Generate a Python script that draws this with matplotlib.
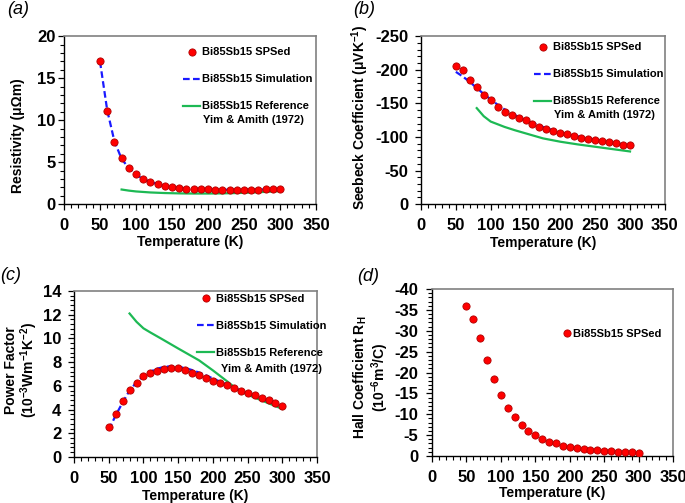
import matplotlib
matplotlib.use("Agg")
import matplotlib.pyplot as plt
import matplotlib.transforms as mtransforms
from matplotlib.lines import Line2D
from matplotlib.ticker import MultipleLocator

FONT = 'Liberation Sans'
plt.rcParams['font.family'] = [FONT, 'DejaVu Sans']
plt.rcParams['font.weight'] = 'bold'
plt.rcParams['axes.labelweight'] = 'bold'
plt.rcParams['axes.unicode_minus'] = False
plt.rcParams['mathtext.fontset'] = 'custom'
plt.rcParams['mathtext.rm'] = FONT + ':bold'
plt.rcParams['mathtext.it'] = FONT + ':bold'
plt.rcParams['mathtext.bf'] = FONT + ':bold'
plt.rcParams['mathtext.default'] = 'rm'

# Temperature grid of the measurements (K)
temp = [50, 60, 70, 80, 90, 100, 110, 120, 130, 140, 150, 160, 170, 180, 190,
        200, 210, 220, 230, 240, 250, 260, 270, 280, 290, 300]

# (a) resistivity (uOhm m)
rho_meas = [17.1, 11.07, 7.42, 5.52, 4.29, 3.57, 2.98, 2.66, 2.42, 2.22, 2.06, 1.94, 1.87,
            1.83, 1.79, 1.76, 1.74, 1.73, 1.72, 1.72, 1.73, 1.74, 1.75, 1.76, 1.78, 1.82]
rho_sim = [17.0, 11.2, 7.5, 5.4, 4.3, 3.55, 3.0, 2.65, 2.4, 2.2, 2.06, 1.95, 1.88,
           1.83, 1.79, 1.76, 1.74, 1.73, 1.72, 1.72, 1.73, 1.74, 1.75, 1.76, 1.78, 1.82]
ref_temp_a = [80, 90, 100, 120, 140, 160, 180, 200, 220, 240, 260, 280, 300]
rho_ref = [1.75, 1.62, 1.52, 1.40, 1.33, 1.29, 1.27, 1.27, 1.29, 1.33, 1.39, 1.47, 1.56]

# (b) Seebeck coefficient (uV/K)
seeb_meas = [-205, -199, -185.5, -174.5, -163, -155, -145, -137, -132.5, -128, -125, -120,
             -115.5, -112.5, -109, -106, -104, -101, -99, -97.5, -95.5, -94, -92.5, -90.5,
             -88.5, -88]
seeb_sim = [-197, -190, -182, -173, -164, -156, -148, -141, -135, -130, -125, -121, -117,
            -113, -110, -107, -104, -102, -100, -98, -96, -94, -92, -91, -89, -88]
ref_temp_b = [80, 90, 100, 110, 120, 135, 150, 175, 200, 225, 250, 275, 300]
seeb_ref = [-143, -131, -123, -119, -115, -110, -105.5, -98, -93, -89, -85.5, -82, -78.5]

# (c) power factor (1e-3 W m^-1 K^-2)
pf_meas = [2.49, 3.64, 4.68, 5.63, 6.27, 6.86, 7.09, 7.28, 7.42, 7.48, 7.48, 7.31, 7.09,
           6.92, 6.69, 6.44, 6.27, 6.05, 5.85, 5.60, 5.38, 5.21, 5.01, 4.79, 4.54, 4.34]
pf_sim = [2.3, 3.5, 4.6, 5.6, 6.3, 6.85, 7.2, 7.45, 7.6, 7.65, 7.6, 7.5, 7.33, 7.12,
          6.88, 6.62, 6.36, 6.1, 5.85, 5.6, 5.36, 5.14, 4.91, 4.69, 4.46, 4.25]
ref_temp_c = [80, 90, 100, 110, 125, 150, 180, 200, 220, 235, 250, 275, 300]
pf_ref = [12.1, 11.4, 10.85, 10.5, 10.0, 9.15, 8.15, 7.3, 6.4, 5.7, 5.25, 4.65, 4.05]

# (d) Hall coefficient (1e-6 m^3/C)
hall_meas = [-36.0, -32.9, -28.2, -23.1, -18.5, -14.6, -11.6, -9.3, -7.4, -6.0, -5.0, -4.1,
             -3.4, -3.0, -2.5, -2.2, -1.9, -1.7, -1.5, -1.4, -1.2, -1.1, -1.0, -0.96, -0.88,
             -0.8]

RED, RED_EDGE = '#ff0000', '#b00000'
BLUE = '#1a1aff'
GREEN = '#1db954'
LEG_SPSED = 'Bi85Sb15 SPSed'
LEG_SIM = 'Bi85Sb15 Simulation'
LEG_REF = 'Bi85Sb15 Reference'
REF_NOTE = 'Yim & Amith (1972)'
LEG_SIZE = 8
LAB_SIZE = 10
TICK_SIZE = 12

fig = plt.figure(figsize=(6.85, 5.03), dpi=100)
ax_a = fig.add_axes([0.0934, 0.594, 0.368, 0.334])
ax_b = fig.add_axes([0.6146, 0.594, 0.356, 0.334])
ax_c = fig.add_axes([0.108, 0.0915, 0.355, 0.330])
ax_d = fig.add_axes([0.6307, 0.0934, 0.352, 0.332])


def style_axes(ax, ylim, ymajor, yminor, ypad, xlab_y):
    ax.set_xlim(0, 350)
    ax.set_ylim(*ylim)
    ax.xaxis.set_major_locator(MultipleLocator(50))
    ax.xaxis.set_minor_locator(MultipleLocator(10))
    ax.yaxis.set_major_locator(MultipleLocator(ymajor))
    ax.yaxis.set_minor_locator(MultipleLocator(yminor))
    for side in ['left', 'bottom']:
        ax.spines[side].set_color('black')
        ax.spines[side].set_linewidth(1.0)
    for side in ['top', 'right']:
        ax.spines[side].set_color('#808080')
        ax.spines[side].set_linewidth(1.2)
    ax.tick_params(which='major', direction='out', length=4, width=0.9, labelsize=TICK_SIZE)
    ax.tick_params(which='minor', direction='out', length=3, width=0.8)
    ax.tick_params(axis='x', which='major', pad=6)
    ax.tick_params(axis='y', which='major', pad=ypad)
    for lab in ax.get_xticklabels() + ax.get_yticklabels():
        lab.set_fontweight('bold')
    ax.set_xlabel('Temperature (K)', fontsize=LAB_SIZE, fontweight='bold')
    ax.xaxis.set_label_coords(0.5, xlab_y)


def plot_meas(ax, y):
    ax.plot(temp, y, 'o', color=RED, mec=RED_EDGE, mew=0.6, ms=5.2, zorder=3)


def add_legend(ax, three, anchor, note_xy):
    h_meas = Line2D([], [], ls='none', marker='o', color=RED, mec=RED_EDGE, mew=0.6, ms=5.2)
    if not three:
        ax.legend([h_meas], [LEG_SPSED], loc='upper left', bbox_to_anchor=anchor,
                  frameon=False, prop={'size': LEG_SIZE, 'weight': 'bold'}, handlelength=0.9,
                  handletextpad=0.15, borderpad=0, borderaxespad=0)
        return
    h_sim = Line2D([], [], color=BLUE, lw=1.6, ls=(0, (3, 1.5)))
    h_ref = Line2D([], [], color=GREEN, lw=1.6)
    ax.legend([h_meas, h_sim, h_ref], [LEG_SPSED, LEG_SIM, LEG_REF], loc='upper left',
              bbox_to_anchor=anchor, frameon=False, prop={'size': LEG_SIZE, 'weight': 'bold'},
              handlelength=1.55, handletextpad=0.2, labelspacing=1.53, borderpad=0,
              borderaxespad=0)
    ax.text(note_xy[0], note_xy[1], REF_NOTE, transform=ax.transAxes, fontsize=LEG_SIZE,
            fontweight='bold', va='center', ha='left')


# (a)
ax_a.plot(temp, rho_sim, color=BLUE, lw=1.6, ls=(0, (3, 1.5)), zorder=2)
ax_a.plot(ref_temp_a, rho_ref, color=GREEN, lw=1.6, zorder=1)
plot_meas(ax_a, rho_meas)
style_axes(ax_a, (0, 20), 5, 1, 2, -0.185)
ax_a.set_ylabel('Resistivity (μΩm)', fontsize=LAB_SIZE, fontweight='bold')
ax_a.yaxis.set_label_coords(-0.155, 0.41)
add_legend(ax_a, True, (0.472, 0.933), (0.552, 0.50))

# (b)
ax_b.plot(temp, seeb_sim, color=BLUE, lw=1.6, ls=(0, (3, 1.5)), zorder=2)
ax_b.plot(ref_temp_b, seeb_ref, color=GREEN, lw=1.6, zorder=1)
plot_meas(ax_b, seeb_meas)
style_axes(ax_b, (0, -250), 50, 10, 5, -0.19)
ax_b.set_ylabel('Seebeck Coefficient (μVK$^{-1}$)', fontsize=LAB_SIZE, fontweight='bold')
ax_b.yaxis.set_label_coords(-0.205, 0.518)
add_legend(ax_b, True, (0.463, 0.963), (0.545, 0.53))

# (c)
ax_c.plot(temp, pf_sim, color=BLUE, lw=1.6, ls=(0, (3, 1.5)), zorder=2)
ax_c.plot(ref_temp_c, pf_ref, color=GREEN, lw=1.6, zorder=1)
plot_meas(ax_c, pf_meas)
style_axes(ax_c, (0, 14), 2, 0.4, 5, -0.193)
ax_c.set_ylabel('Power Factor\n(10$^{-3}$Wm$^{-1}$K$^{-2}$)', fontsize=LAB_SIZE,
                fontweight='bold', linespacing=1.0)
ax_c.yaxis.set_label_coords(-0.14, 0.524)
add_legend(ax_c, True, (0.506, 0.983), (0.605, 0.53))

# (d)
plot_meas(ax_d, hall_meas)
style_axes(ax_d, (0, -40), 5, 1, 6, -0.18)
ax_d.set_ylabel('Hall Coefficient R$_H$\n(10$^{-6}$m$^3$/C)', fontsize=LAB_SIZE,
                fontweight='bold', linespacing=1.0)
ax_d.yaxis.set_label_coords(-0.17, 0.473)
add_legend(ax_d, False, (0.538, 0.76), None)
# last x tick label nudged left so it stays inside the figure
fig.canvas.draw()
last = ax_d.get_xticklabels()[-1]
last.set_transform(last.get_transform() +
                   mtransforms.ScaledTranslation(-10 / 72, 0, fig.dpi_scale_trans))

# panel letters
for x, y, s in [(0.010, 0.982, '(a)'), (0.515, 0.982, '(b)'),
                (0.000, 0.453, '(c)'), (0.521, 0.451, '(d)')]:
    fig.text(x, y, s, fontsize=13, fontstyle='italic', fontweight='normal', va='center')

fig.savefig('out.png', dpi=100)
